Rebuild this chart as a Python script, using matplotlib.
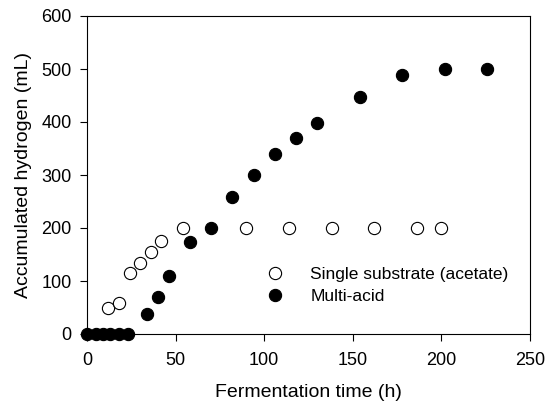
import matplotlib
matplotlib.use("Agg")
import matplotlib.pyplot as plt

plt.rcParams['font.family'] = ['Liberation Sans', 'DejaVu Sans']

# single substrate (acetate)
single_time = [12, 18, 24, 30, 36, 42, 54, 90, 114, 138, 162, 186, 200]
single_h2 = [50, 58, 115, 134, 155, 175, 200, 200, 200, 200, 200, 200, 200]

# multi-acid
multi_time = [0, 5, 9, 13, 18, 23, 34, 40, 46, 58, 70, 82, 94, 106, 118, 130, 154, 178, 202, 226]
multi_h2 = [0, 0, 0, 0, 0, 0, 38, 69, 109, 173, 200, 259, 300, 339, 369, 399, 448, 489, 500, 500]

x_ticks = [0, 50, 100, 150, 200, 250]
y_ticks = [0, 100, 200, 300, 400, 500, 600]

fig = plt.figure(figsize=(5.47, 4.07), dpi=100)
ax = fig.add_axes([87/547, 73/407, 443/547, 318/407])

ax.plot(single_time, single_h2, 'o', ms=8.8, mfc='white', mec='black', mew=0.8,
        label='Single substrate (acetate)', clip_on=False, zorder=3)
ax.plot(multi_time, multi_h2, 'o', ms=8.8, mfc='black', mec='black', mew=0.8,
        label='Multi-acid', clip_on=False, zorder=4)

ax.set_xlim(0, 250)
ax.set_ylim(0, 600)
ax.set_xticks(x_ticks)
ax.set_yticks(y_ticks)
ax.tick_params(direction='out', length=5, width=0.8, labelsize=13)
ax.tick_params(axis='x', pad=8)
ax.tick_params(axis='y', pad=6)
for s in ax.spines.values():
    s.set_linewidth(0.8)

ax.set_xlabel('Fermentation time (h)', fontsize=14, labelpad=11)
ax.set_ylabel('Accumulated hydrogen (mL)', fontsize=14, labelpad=7)

ax.legend(loc='upper left', bbox_to_anchor=(0.375, 0.238), frameon=False,
          fontsize=12.5, handletextpad=1.3, labelspacing=0.38, borderpad=0,
          handlelength=1.5)

fig.savefig('out.png', dpi=100)
